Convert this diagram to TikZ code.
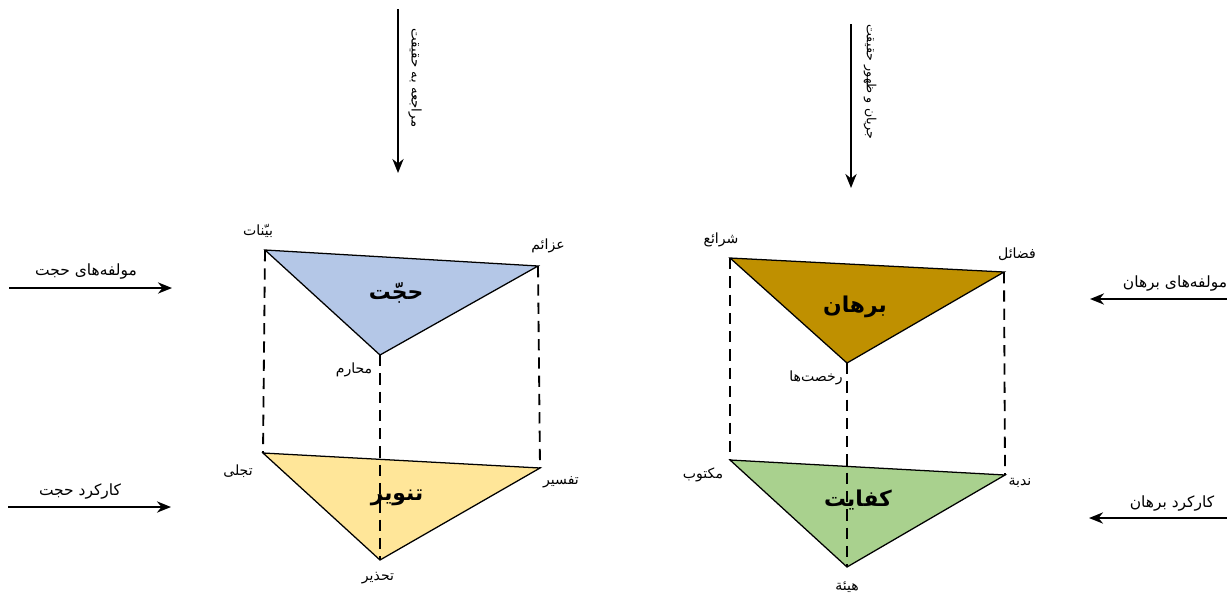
\documentclass[tikz,border=0pt]{standalone}
\usepackage{fontspec}
\usepackage{tikz}
\usetikzlibrary{arrows.meta,positioning}
\TeXXeTstate=1
\newfontfamily\arabicfont[Script=Arabic]{DejaVu Sans}
\newcommand{\fatext}[1]{\beginR #1\endR}
\definecolor{hojjatblue}{HTML}{B4C7E7}
\definecolor{tanviryellow}{HTML}{FFE699}
\definecolor{borhangold}{HTML}{BF9000}
\definecolor{kefayatgreen}{HTML}{A9D18E}

\begin{document}
\begin{tikzpicture}[x=0.025cm, y=-0.025cm,
  every node/.style={font=\arabicfont\fontsize{10}{11}\selectfont, inner sep=1pt},
  tri/.style={draw=black, line width=0.9pt},
  guide/.style={line width=1.3pt, dash pattern=on 8pt off 5pt},
  flow/.style={-{Stealth[length=10pt,width=8pt]}, line width=1.3pt},
  axis/.style={rotate=-90, font=\arabicfont\fontsize{9.5}{11}\selectfont},
  side/.style={font=\arabicfont\fontsize{11}{12}\selectfont},
  title/.style={font=\arabicfont\bfseries\fontsize{15.5}{17}\selectfont}]
  \useasboundingbox (0,0) rectangle (1227,593);

  % vertices of the four triangles
  \coordinate (bayyinat) at (265,250);
  \coordinate (azaem) at (538,266);
  \coordinate (maharem) at (380,355);
  \coordinate (tajalli) at (263,453);
  \coordinate (tafsir) at (540,468);
  \coordinate (tahzir) at (380,560);
  \coordinate (sharae) at (730,258);
  \coordinate (fazael) at (1004,272);
  \coordinate (rokhsat) at (847,363);
  \coordinate (maktub) at (730,460);
  \coordinate (nodba) at (1005,475);
  \coordinate (hayat) at (847,567);

  \draw[tri, fill=hojjatblue] (bayyinat) -- (azaem) -- (maharem) -- cycle;
  \draw[tri, fill=tanviryellow] (tajalli) -- (tafsir) -- (tahzir) -- cycle;
  \draw[tri, fill=borhangold] (sharae) -- (fazael) -- (rokhsat) -- cycle;
  \draw[tri, fill=kefayatgreen] (maktub) -- (nodba) -- (hayat) -- cycle;

  \node[title] (hojjat) at (396,293) {\fatext{حجّت}};
  \node[title] (tanvir) at (397,498) {\fatext{تنویر}};
  \node[title] (borhan) at (855,307) {\fatext{برهان}};
  \node[title] (kefayat) at (858,500) {\fatext{کفایت}};

  \draw[guide] (bayyinat) -- (tajalli);
  \draw[guide] (azaem) -- (tafsir);
  \draw[guide] (maharem) -- (tahzir);
  \draw[guide] (sharae) -- (maktub);
  \draw[guide] (fazael) -- (nodba);
  \draw[guide] (rokhsat) -- (hayat);

  \node (bayyinatL) at (258,231) {\fatext{بیّنات}};
  \node (azaemL) at (548,246) {\fatext{عزائم}};
  \node (maharemL) at (354,370) {\fatext{محارم}};
  \node (tajalliL) at (238,471) {\fatext{تجلی}};
  \node (tafsirL) at (561,482) {\fatext{تفسیر}};
  \node (tahzirL) at (378,578) {\fatext{تحذیر}};
  \node (sharaeL) at (721,240) {\fatext{شرائع}};
  \node (fazaelL) at (1017,254) {\fatext{فضائل}};
  \node (rokhsatL) at (816,378) {\fatext{رخصت‌ها}};
  \node (maktubL) at (703,475) {\fatext{مکتوب}};
  \node (nodbaL) at (1020,483) {\fatext{ندبة}};
  \node (hayatL) at (847,587) {\fatext{هیئة}};

  % arrows of the vertical axis
  \coordinate (referTop) at (398,9);
  \coordinate (referEnd) at (398,173);
  \draw[flow] (referTop) -- (referEnd);
  \node[axis] (referL) at (415,78) {\fatext{مراجعه به حقیقت}};
  \coordinate (flowTop) at (851,24);
  \coordinate (flowEnd) at (851,188);
  \draw[flow] (flowTop) -- (flowEnd);
  \node[axis, font=\arabicfont\fontsize{9}{10}\selectfont] (flowL) at (870,82) {\fatext{جریان و ظهور حقیقت}};

  % side arrows
  \coordinate (hpStart) at (9,288);
  \coordinate (hpEnd) at (172,288);
  \draw[flow] (hpStart) -- (hpEnd);
  \node[side] (hpL) at (86,272) {\fatext{مولفه‌های حجت}};
  \coordinate (hfStart) at (8,507);
  \coordinate (hfEnd) at (171,507);
  \draw[flow] (hfStart) -- (hfEnd);
  \node[side] (hfL) at (80,492) {\fatext{کارکرد حجت}};
  \coordinate (bpStart) at (1227,299);
  \coordinate (bpEnd) at (1090,299);
  \draw[flow] (bpStart) -- (bpEnd);
  \node[side] (bpL) at (1175,284) {\fatext{مولفه‌های برهان}};
  \coordinate (bfStart) at (1227,518);
  \coordinate (bfEnd) at (1089,518);
  \draw[flow] (bfStart) -- (bfEnd);
  \node[side] (bfL) at (1172,504) {\fatext{کارکرد برهان}};
\end{tikzpicture}
\end{document}
